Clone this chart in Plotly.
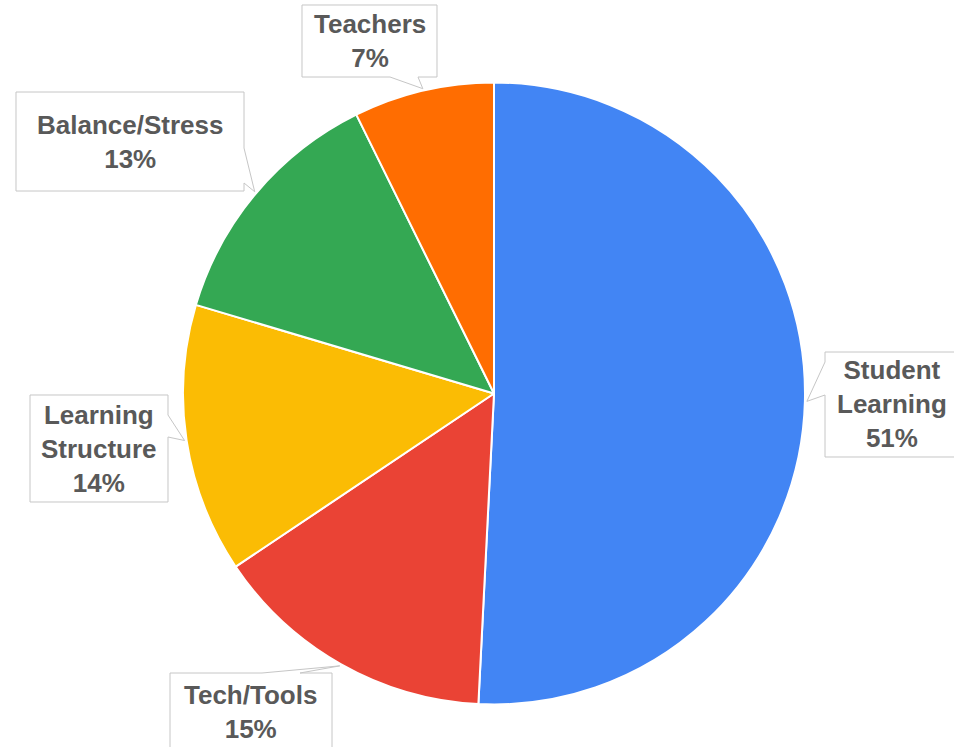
import math
import plotly.graph_objects as go

# ---- data ----
categories = ["Student Learning", "Tech/Tools", "Learning Structure", "Balance/Stress", "Teachers"]
values = [50.8, 14.8, 14.0, 13.1, 7.3]
callout_names = ["Student<br>Learning", "Tech/Tools", "Learning<br>Structure", "Balance/Stress", "Teachers"]
colors = ["#4285F4", "#EA4335", "#FBBC04", "#34A853", "#FF6D01"]

# ---- layout constants (pixels) ----
W, H = 954, 747
CX, CY, R = 494, 393.5, 311
# callout boxes: (x0, y0, x1, y1), tail side, tail base (a, b)
boxes = [
    ((825, 352, 960, 457), "left", (362, 395)),
    ((170, 673, 332, 750), "top", (262, 300)),
    ((30, 395, 168, 502), "right", (415, 437)),
    ((16, 92, 244, 191), "right", (148, 183)),
    ((302, 5, 437, 77), "bottom", (390, 418)),
]

def px(x):
    return x / W

def py(y):
    return 1 - y / H

fig = go.Figure()
fig.add_trace(go.Pie(
    labels=categories,
    values=values,
    sort=False,
    direction="clockwise",
    rotation=0,
    marker=dict(colors=colors, line=dict(color="white", width=2)),
    textinfo="none",
    textposition="none",
    hoverinfo="label+percent",
    showlegend=False,
    domain=dict(x=[px(CX - R), px(CX + R)], y=[py(CY + R), py(CY - R)]),
))

total = sum(values)
cum = 0.0
shapes = []
annotations = []
for i, v in enumerate(values):
    mid = (cum + v / 2) / total * 2 * math.pi
    cum += v
    tipx = CX + (R + 2) * math.sin(mid)
    tipy = CY - (R + 2) * math.cos(mid)
    (x0, y0, x1, y1), side, (a, b) = boxes[i]
    pts = [(x0, y0)]
    if side == "top":
        pts += [(a, y0), (tipx, tipy), (b, y0)]
    pts += [(x1, y0)]
    if side == "right":
        pts += [(x1, a), (tipx, tipy), (x1, b)]
    pts += [(x1, y1)]
    if side == "bottom":
        pts += [(b, y1), (tipx, tipy), (a, y1)]
    pts += [(x0, y1)]
    if side == "left":
        pts += [(x0, b), (tipx, tipy), (x0, a)]
    path = "M " + " L ".join(f"{px(x):.5f},{py(y):.5f}" for x, y in pts) + " Z"
    shapes.append(dict(type="path", path=path, xref="paper", yref="paper",
                       fillcolor="white", line=dict(color="#c6c6c6", width=1), layer="above"))
    pct = round(v / total * 100)
    annotations.append(dict(
        x=px((x0 + min(x1, 959)) / 2), y=py((y0 + y1) / 2), xref="paper", yref="paper",
        xanchor="center", yanchor="middle", showarrow=False,
        text=f"<b>{callout_names[i]}<br>{pct}%</b>",
        font=dict(family="Liberation Sans, Arial, sans-serif", size=26, color="#595959"),
        align="center",
    ))

fig.update_layout(
    width=W, height=H,
    margin=dict(l=0, r=0, t=0, b=0),
    paper_bgcolor="white", plot_bgcolor="white",
    shapes=shapes, annotations=annotations,
)

fig.write_html(
    "out.html",
    config={"displayModeBar": False},
    post_script="document.body.style.margin='0';document.body.style.padding='0';document.body.style.overflow='hidden';",
)
